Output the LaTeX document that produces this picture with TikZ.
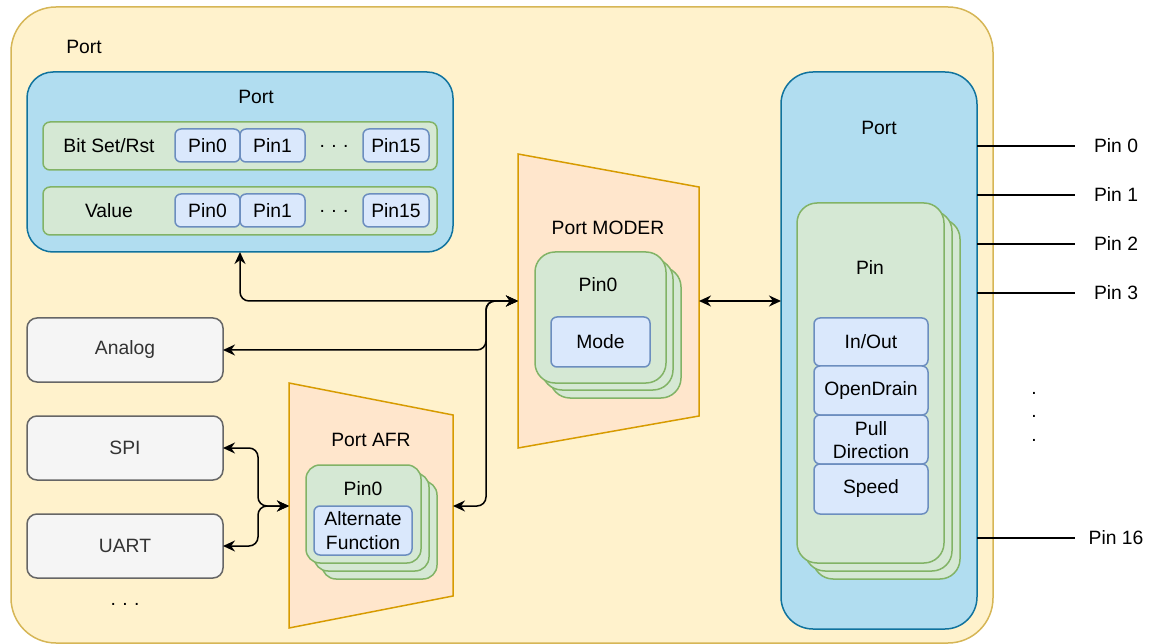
\documentclass[tikz,border=0pt]{standalone}
\usepackage{fontspec}
\setmainfont{Liberation Sans}
\usetikzlibrary{arrows.meta}
\definecolor{outerfill}{HTML}{FFF2CC}
\definecolor{outerdraw}{HTML}{D6B656}
\definecolor{bluefill}{HTML}{B1DDF0}
\definecolor{bluedraw}{HTML}{10739E}
\definecolor{greenfill}{HTML}{D5E8D4}
\definecolor{greendraw}{HTML}{82B366}
\definecolor{lbfill}{HTML}{DAE8FC}
\definecolor{lbdraw}{HTML}{6C8EBF}
\definecolor{greyfill}{HTML}{F5F5F5}
\definecolor{greydraw}{HTML}{666666}
\definecolor{greytext}{HTML}{333333}
\definecolor{orfill}{HTML}{FFE6CC}
\definecolor{ordraw}{HTML}{D79B00}
\tikzset{
  txt/.style={font=\fontsize{19.3}{23.5}\selectfont, align=center, inner sep=0pt},
  outerbox/.style={fill=outerfill, draw=outerdraw, line width=1.5pt, rounded corners=45pt},
  portbox/.style={fill=bluefill, draw=bluedraw, line width=1.5pt},
  rowbox/.style={fill=greenfill, draw=greendraw, line width=1.5pt, rounded corners=7pt},
  pinbox/.style={fill=lbfill, draw=lbdraw, line width=1.5pt, rounded corners=6pt},
  periph/.style={fill=greyfill, draw=greydraw, line width=1.5pt, rounded corners=10pt},
  stackbox/.style={fill=greenfill, draw=greendraw, line width=1.5pt},
  trap/.style={fill=orfill, draw=ordraw, line width=1.5pt},
  conn/.style={line width=1.5pt, rounded corners=9pt, {Stealth[length=12pt,width=11pt]}-{Stealth[length=12pt,width=11pt]}},
  pinline/.style={line width=1.5pt}
}
\begin{document}
\begin{tikzpicture}[x=1pt,y=-1pt]
\useasboundingbox (0,0) rectangle (1149,644);
% outer box
\draw[outerbox] (11,7) rectangle (993,643);
\node[txt] (outerlbl) at (84,47) {Port};

% top-left port
\draw[portbox, rounded corners=26pt] (27,72) rectangle (453,252);
\coordinate (tlport) at (240,252);
\node[txt] (tllbl) at (256,97) {Port};
\draw[rowbox] (43,122) rectangle (437,170);
\draw[rowbox] (43,187) rectangle (437,235);
\node[txt] (bitset) at (109,146) {Bit Set/Rst};
\node[txt] (value) at (109,211) {Value};
\foreach \y/\r in {129/a,194/b}{
  \draw[pinbox] (175,\y) rectangle ++(65,33);
  \draw[pinbox] (240,\y) rectangle ++(65,33);
  \draw[pinbox] (363,\y) rectangle ++(66,33);
}
\node[txt] (p0a) at (207.5,146) {Pin0};
\node[txt] (p1a) at (272.5,146) {Pin1};
\node[txt] (dta) at (334,146) {.\,\,.\,\,.};
\node[txt] (p15a) at (396,146) {Pin15};
\node[txt] (p0b) at (207.5,211) {Pin0};
\node[txt] (p1b) at (272.5,211) {Pin1};
\node[txt] (dtb) at (334,211) {.\,\,.\,\,.};
\node[txt] (p15b) at (396,211) {Pin15};

% peripherals
\draw[periph] (27,318) rectangle (223,382);
\draw[periph] (27,416) rectangle (223,480);
\draw[periph] (27,514) rectangle (223,578);
\node[txt, text=greytext] (analog) at (125,350) {Analog};
\node[txt, text=greytext] (spi) at (125,448) {SPI};
\node[txt, text=greytext] (uart) at (125,546) {UART};
\node[txt] (pdots) at (125,604) {.\,\,.\,\,.};
\coordinate (analogR) at (223,350);
\coordinate (spiR) at (223,448);
\coordinate (uartR) at (223,546);

% Port AFR
\draw[trap] (289,383) -- (453,415) -- (453,596) -- (289,628) -- cycle;
\coordinate (afrL) at (289,506);
\coordinate (afrR) at (453,506);
\node[txt] (afrlbl) at (371,440) {Port AFR};
\draw[stackbox, rounded corners=14pt] (322,481) rectangle (437,579);
\draw[stackbox, rounded corners=14pt] (314,473) rectangle (429,571);
\draw[stackbox, rounded corners=14pt] (306,465) rectangle (421,563);
\node[txt] (afrpin) at (363,489) {Pin0};
\draw[pinbox] (314,506) rectangle (412,555);
\node[txt] (altfn) at (363,530.5) {Alternate\\Function};

% Port MODER
\draw[trap] (518,154) -- (699,187) -- (699,416) -- (518,448) -- cycle;
\coordinate (moderL) at (518,301);
\coordinate (moderR) at (699,301);
\node[txt] (moderlbl) at (608,228) {Port MODER};
\draw[stackbox, rounded corners=20pt] (550,267) rectangle (681,398);
\draw[stackbox, rounded corners=20pt] (542,259) rectangle (673,390);
\draw[stackbox, rounded corners=20pt] (535,252) rectangle (666,383);
\node[txt] (moderpin) at (598,285) {Pin0};
\draw[pinbox] (551,317) rectangle (650,367);
\node[txt] (mode) at (600.5,342) {Mode};

% right port
\draw[portbox, rounded corners=32pt] (781,72) rectangle (977,629);
\coordinate (rportL) at (781,301);
\node[txt] (rlbl) at (879,128) {Port};
\draw[stackbox, rounded corners=20pt] (813,219) rectangle (960,579);
\draw[stackbox, rounded corners=20pt] (805,211) rectangle (952,571);
\draw[stackbox, rounded corners=20pt] (797,203) rectangle (944,563);
\node[txt] (pinlbl) at (870,268) {Pin};
\draw[pinbox] (814,318) rectangle (928,366);
\draw[pinbox] (814,366) rectangle (928,415);
\draw[pinbox] (814,415) rectangle (928,464);
\draw[pinbox] (814,464) rectangle (928,514);
\node[txt] (inout) at (871,342) {In/Out};
\node[txt] (od) at (871,390.5) {OpenDrain};
\node[txt] (pull) at (871,440) {Pull\\Direction};
\node[txt] (speed) at (871,489) {Speed};

% pin lines
\foreach \y/\n/\lab in {146/0/Pin 0,195/1/Pin 1,244/2/Pin 2,293/3/Pin 3,538/16/Pin 16}{
  \coordinate (ps\n) at (977,\y);
  \coordinate (pe\n) at (1075,\y);
  \draw[pinline] (ps\n) -- (pe\n);
  \node[txt] (pl\n) at (1116,\y) {\lab};
}
\node[txt] (rd1) at (1034,393) {.};
\node[txt] (rd2) at (1034,416) {.};
\node[txt] (rd3) at (1034,440) {.};

% connectors
\draw[conn] (tlport) -- (240,301) -- (moderL);
\draw[conn] (analogR) -- (486,350) -- (486,301) -- (moderL);
\draw[conn] (afrR) -- (486,506) -- (486,301) -- (moderL);
\draw[conn] (moderR) -- (rportL);
\draw[conn] (spiR) -- (258,448) -- (258,506) -- (afrL);
\draw[conn] (uartR) -- (258,546) -- (258,506) -- (afrL);
\end{tikzpicture}
\end{document}
